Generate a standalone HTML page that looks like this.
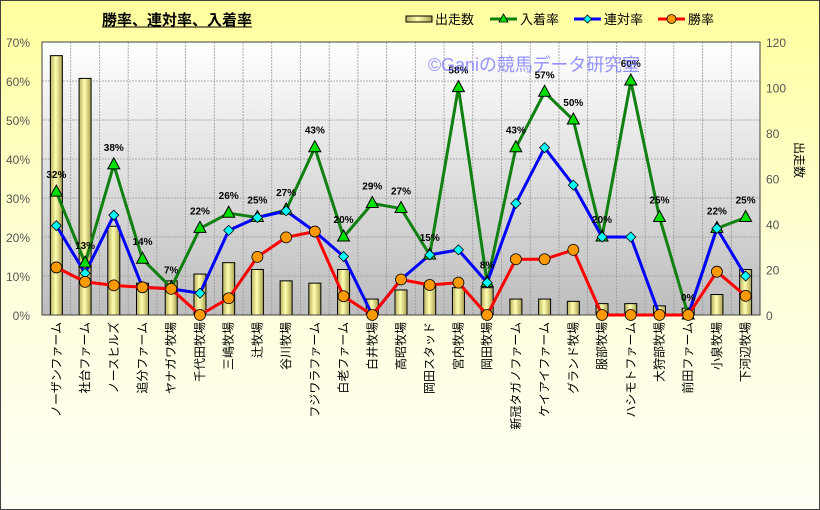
<!DOCTYPE html>
<html><head><meta charset="utf-8"><style>
html,body{margin:0;padding:0;background:#fff}
svg{display:block;font-family:"Liberation Sans","Noto Sans CJK JP",sans-serif}
</style></head><body>
<svg id="c" width="820" height="510" viewBox="0 0 820 510" xmlns="http://www.w3.org/2000/svg">
<defs>
<linearGradient id="bg" x1="0" y1="0" x2="0" y2="1"><stop offset="0" stop-color="#ffff9e"/><stop offset="0.5" stop-color="#ffffd8"/><stop offset="1" stop-color="#fffff6"/></linearGradient>
<linearGradient id="pa" x1="0" y1="0" x2="0" y2="1"><stop offset="0" stop-color="#ffffff"/><stop offset="1" stop-color="#bdbdbd"/></linearGradient>
<linearGradient id="bar" x1="0" y1="0" x2="1" y2="0"><stop offset="0" stop-color="#b8b060"/><stop offset="0.45" stop-color="#ffffb0"/><stop offset="1" stop-color="#a8a050"/></linearGradient>
</defs>
<rect x="0.5" y="0.5" width="819" height="509" fill="url(#bg)" stroke="#404040"/>
<rect x="42" y="42" width="718" height="273" fill="url(#pa)"/>
<g id="grid"></g>
<g id="bars"></g>
<rect x="42" y="42" width="718" height="273" fill="none" stroke="#404040"/>
<text x="102" y="25" font-size="15" font-weight="bold" fill="#000">勝率、連対率、入着率</text>
<line x1="102" y1="27" x2="252" y2="27" stroke="#000" stroke-width="1"/>
<g font-size="13" fill="#000">
<rect x="406" y="16" width="26" height="6" fill="url(#bar)" stroke="#000"/><text x="435" y="24">出走数</text>
<line x1="490" y1="19" x2="517" y2="19" stroke="#108010" stroke-width="3"/><polygon points="503.5,14 508,22 499,22" fill="#00e000" stroke="#000" stroke-width="0.8"/><text x="520" y="24">入着率</text>
<line x1="574" y1="19" x2="601" y2="19" stroke="#0000ff" stroke-width="3"/><polygon points="587.5,15 591.5,19 587.5,23 583.5,19" fill="#00ffff" stroke="#000" stroke-width="0.8"/><text x="604" y="24">連対率</text>
<line x1="658" y1="19" x2="685" y2="19" stroke="#ff0000" stroke-width="3"/><circle cx="671.5" cy="19" r="4.5" fill="#ff9900" stroke="#000" stroke-width="0.8"/><text x="688" y="24">勝率</text>
</g>
<g id="axes" font-size="12" fill="#555"></g>
<text transform="translate(795,160) rotate(90)" font-size="12" fill="#000" text-anchor="middle">出走数</text>
<g id="series"></g>
<text x="428" y="71" font-size="18" fill="#7070ff" fill-opacity="0.75" textLength="212" lengthAdjust="spacingAndGlyphs">©Ganiの競馬データ研究室</text>
</svg>
<script>
var names=["ノーザンファーム","社台ファーム","ノースヒルズ","追分ファーム","ヤナガワ牧場","千代田牧場","三嶋牧場","辻牧場","谷川牧場","フジワラファーム","白老ファーム","白井牧場","高昭牧場","岡田スタッド","宮内牧場","岡田牧場","新冠タガノファーム","ケイアイファーム","グランド牧場","服部牧場","ハシモトファーム","大狩部牧場","前田ファーム","小泉牧場","下河辺牧場"];
var bars=[114,104,39,14,15,18,23,20,15,14,20,7,11,13,12,12,7,7,6,5,5,4,3,9,20];
var g=[31.5,13.3,38.5,14.3,7,22.2,26.1,25,26.9,42.9,20,28.6,27.3,15.4,58.3,8.3,42.9,57.1,50,20,60,25,0,22.2,25];
var gl=["32%","13%","38%","14%","7%","22%","26%","25%","27%","43%","20%","29%","27%","15%","58%","8%","43%","57%","50%","20%","60%","25%","0%","22%","25%"];
var b=[22.9,10.7,25.6,7.1,6.7,5.6,21.7,25,26.7,21.4,15,0,9.1,15.4,16.7,8.3,28.6,42.9,33.3,20,20,0,0,22.2,10];
var r=[12.2,8.5,7.6,7.1,6.7,0,4.3,14.9,19.9,21.4,4.8,0,9.1,7.7,8.3,0,14.3,14.3,16.7,0,0,0,0,11.1,4.9];
var NS="http://www.w3.org/2000/svg";
function el(p,t,a,txt){var e=document.createElementNS(NS,t);for(var k in a)e.setAttribute(k,a[k]);if(txt!=null)e.textContent=txt;p.appendChild(e);return e;}
var X0=42,W=718,cw=W/25,Y0=315,H=273;
function cx(i){return X0+cw*(i+0.5);}
function py(v){return Y0-v/70*H;}
function by(v){return Y0-v/120*H;}
var grid=document.getElementById('grid'),ax=document.getElementById('axes');
for(var k=1;k<7;k++){var y=Y0-k*39;el(grid,'line',{x1:X0,y1:y,x2:X0+W,y2:y,stroke:'#999','stroke-dasharray':'2,1','stroke-width':0.8});}
for(var i=1;i<25;i++){var x=X0+cw*i;el(grid,'line',{x1:x,y1:42,x2:x,y2:Y0,stroke:'#999','stroke-dasharray':'2,1','stroke-width':0.8});}
for(var k=0;k<=7;k++){el(ax,'text',{x:30,y:Y0-k*39+5,'text-anchor':'end'},(k*10)+"%");}
for(var k=0;k<=6;k++){el(ax,'text',{x:766,y:Y0-k*45.5+5},String(k*20));}
var bg=document.getElementById('bars');
for(var i=0;i<25;i++){var t=by(bars[i]);el(bg,'rect',{x:cx(i)-6,y:t,width:12,height:Y0-t,fill:'url(#bar)',stroke:'#000','stroke-width':1});}
var s=document.getElementById('series');
function poly(arr,col){var p=arr.map(function(v,i){return cx(i).toFixed(1)+","+py(v).toFixed(1)}).join(" ");el(s,'polyline',{points:p,fill:'none',stroke:col,'stroke-width':3,'stroke-linejoin':'round'});}
poly(g,'#108010');poly(b,'#0000ff');poly(r,'#ff0000');
for(var i=0;i<25;i++){var x=cx(i),y=py(g[i]);el(s,'polygon',{points:x+","+(y-7)+" "+(x+6)+","+(y+4)+" "+(x-6)+","+(y+4),fill:'#00e000',stroke:'#000','stroke-width':1});}
for(var i=0;i<25;i++){var x=cx(i),y=py(b[i]);el(s,'polygon',{points:x+","+(y-5)+" "+(x+5)+","+y+" "+x+","+(y+5)+" "+(x-5)+","+y,fill:'#00ffff',stroke:'#000','stroke-width':0.8});}
for(var i=0;i<25;i++){el(s,'circle',{cx:cx(i),cy:py(r[i]),r:5.5,fill:'#ff9900',stroke:'#000','stroke-width':0.8});}
for(var i=0;i<25;i++){el(s,'text',{x:cx(i),y:py(g[i])-14,'text-anchor':'middle','font-size':10,'font-weight':'bold',fill:'#000'},gl[i]);}
var svg=document.getElementById('c');
for(var i=0;i<25;i++){var x=cx(i)+4;el(svg,'text',{transform:'translate('+x+',322) rotate(-90)','text-anchor':'end','font-size':12,fill:'#000'},names[i]);}
</script>
</body></html>
